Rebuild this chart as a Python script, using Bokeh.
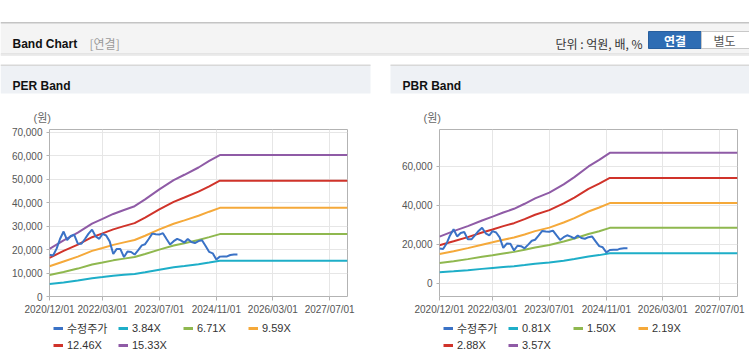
import pandas as pd
from bokeh.plotting import figure
from bokeh.models import (Range1d, FixedTicker, DatetimeTickFormatter, NumeralTickFormatter,
                          Legend, LegendItem, Label, BoxAnnotation)
from bokeh.layouts import column, row
from bokeh.embed import file_html
from bokeh.resources import INLINE

# ---------------- data ----------------
price_label = "수정주가"
price_start = "2020-12-01"
price_values = [17800, 17500, 20500, 24500, 27700, 24000, 25800, 26300, 22500, 22500,
                24500, 26800, 28500, 25600, 24600, 26700, 26000, 23500, 18100, 20300,
                20200, 16800, 19200, 19000, 17900, 19800, 21800, 22300, 24500, 26800,
                26500, 26400, 27000, 24500, 22200, 23600, 24600, 23900, 23000, 24500,
                23200, 22800, 23600, 24000, 21500, 19000, 18400, 15800, 17000, 17100,
                17100, 17700, 17900, 17900]

band_dates = ["2020-12-01", "2021-04-01", "2021-08-01", "2021-12-01", "2022-03-01",
              "2022-06-01", "2022-09-01", "2022-12-01", "2023-03-01", "2023-07-01",
              "2023-11-01", "2024-02-01", "2024-06-01", "2024-09-01", "2024-12-01",
              "2027-12-01"]

per_labels = ["3.84X", "6.71X", "9.59X", "12.46X", "15.33X"]
per_384 = [5300, 5990, 6810, 7790, 8290, 8820, 9240, 9640, 10370, 11450, 12430, 13000, 13780, 14480, 15200, 15200]
per_671 = [9200, 10460, 11900, 13620, 14490, 15410, 16150, 16850, 18120, 20000, 21710, 22720, 24080, 25300, 26600, 26600]
per_959 = [12900, 14950, 17010, 19460, 20710, 22020, 23080, 24080, 25900, 28590, 31030, 32470, 34410, 36160, 37800, 37800]
per_1246 = [16500, 19430, 22100, 25280, 26900, 28610, 29990, 31290, 33650, 37140, 40320, 42190, 44710, 46990, 49400, 49400]
per_1533 = [20300, 23900, 27200, 31100, 33100, 35200, 36900, 38500, 41400, 45700, 49600, 51900, 55000, 57800, 60300, 60300]

pbr_labels = ["0.81X", "1.50X", "2.19X", "2.88X", "3.57X"]
pbr_081 = [5600, 6050, 6650, 7310, 7760, 8240, 8670, 9260, 9890, 10550, 11530, 12370, 13620, 14390, 15400, 15400]
pbr_150 = [10300, 11210, 12320, 13530, 14370, 15260, 16050, 17150, 18320, 19550, 21350, 22910, 25220, 26640, 28400, 28400]
pbr_219 = [15000, 16360, 17980, 19750, 20980, 22270, 23430, 25030, 26740, 28540, 31160, 33440, 36810, 38890, 41150, 41150]
pbr_288 = [19500, 21510, 23650, 25980, 27590, 29290, 30820, 32920, 35170, 37530, 40980, 43980, 48410, 51150, 54060, 54060]
pbr_357 = [23900, 26700, 29300, 32200, 34200, 36300, 38200, 40800, 43600, 46500, 50800, 54500, 60000, 63400, 67000, 67000]

x_tick_labels = ["2020/12/01", "2022/03/01", "2023/07/01", "2024/11/01", "2026/03/01", "2027/07/01"]
x_start_label = "2020/12/01"
x_end_label = "2027/12/01"
per_y_ticks = [0, 10000, 20000, 30000, 40000, 50000, 60000, 70000]
pbr_y_ticks = [0, 20000, 40000, 60000]
unit_label = "(원)"

# ---------------- styling ----------------
price_color = "#3a72c6"
band_colors = ["#1eaec8", "#8fb84f", "#f5a93a", "#d0332a", "#8f5ba6"]
LATIN = "Liberation Sans"
KR = "Noto Sans CJK KR"
MIX = "Liberation Sans, Noto Sans CJK KR"
NAN = float("nan")


def to_ms(s, fmt=None):
    t = pd.to_datetime(s, format=fmt)
    return (t - pd.Timestamp("1970-01-01")) / pd.Timedelta(milliseconds=1)


tick_ms = [to_ms(s, "%Y/%m/%d") for s in x_tick_labels]
x0 = to_ms(x_start_label, "%Y/%m/%d")
x1 = to_ms(x_end_label, "%Y/%m/%d")
price_dates = pd.date_range(price_start, periods=len(price_values), freq="MS")
band_dt = pd.to_datetime(band_dates)

fmt_all = "%Y/%m/%d"
HH = 125          # header strip height
CH = 198          # chart figure height
LH = 41           # legend strip height


def make_chart(bands, y0, y1, yticks, width, min_left, min_right):
    p = figure(width=width, height=CH, x_axis_type="datetime", title=None,
               x_range=Range1d(x0, x1), y_range=Range1d(y0, y1),
               output_backend="svg", toolbar_location=None,
               min_border_left=min_left, min_border_right=min_right,
               min_border_top=4, min_border_bottom=27)
    p.background_fill_color = "white"
    p.border_fill_color = "white"
    p.outline_line_color = "#b3b3b3"
    p.outline_line_width = 1

    p.xaxis.ticker = FixedTicker(ticks=tick_ms)
    p.xaxis.formatter = DatetimeTickFormatter(
        milliseconds=fmt_all, seconds=fmt_all, minsec=fmt_all, minutes=fmt_all,
        hourmin=fmt_all, hours=fmt_all, days=fmt_all, months=fmt_all, years=fmt_all)
    p.yaxis.ticker = FixedTicker(ticks=yticks)
    p.yaxis.formatter = NumeralTickFormatter(format="0,0")
    for ax in (p.xaxis[0], p.yaxis[0]):
        ax.axis_line_color = None
        ax.major_tick_line_color = "#b3b3b3"
        ax.major_tick_in = 0
        ax.minor_tick_line_color = None
        ax.major_label_text_font = LATIN
        ax.major_label_text_font_size = "10px"
        ax.major_label_text_color = "#555555"
    p.xaxis.major_tick_out = 4
    p.xaxis.major_label_standoff = 3
    p.yaxis.major_tick_out = 3
    p.yaxis.major_label_standoff = 4
    p.grid.grid_line_color = "#e6e6e6"
    p.grid.grid_line_width = 1

    for vals, col in zip(bands, band_colors):
        p.line(band_dt, vals, line_color=col, line_width=2)
    p.line(price_dates, price_values, line_color=price_color, line_width=2)
    return p


def make_legend(labels, width, vx):
    q = figure(width=width, height=LH, x_range=Range1d(0, width), y_range=Range1d(0, LH),
               x_axis_location=None, y_axis_location=None, title=None,
               output_backend="svg", toolbar_location=None, min_border=0)
    q.grid.visible = False
    q.outline_line_color = None
    q.background_fill_color = "white"
    q.border_fill_color = "white"
    items = []
    pr = q.line([NAN], [NAN], line_color=price_color, line_width=3)
    items.append(LegendItem(label=price_label, renderers=[pr]))
    for lab, col in zip(labels, band_colors):
        r = q.line([NAN], [NAN], line_color=col, line_width=3)
        items.append(LegendItem(label=lab, renderers=[r]))
    legend = Legend(items=items, location=(vx, 13), orientation="horizontal", ncols=4,
                    padding=0, margin=0, spacing=3, glyph_width=10, glyph_height=12,
                    label_height=12, label_width=48, label_standoff=4,
                    label_text_font=MIX, label_text_font_size="11px",
                    label_text_color="#333333", border_line_color=None,
                    background_fill_alpha=0)
    q.add_layout(legend, "center")
    return q


per = make_chart([per_384, per_671, per_959, per_1246, per_1533],
                 0, 71200, per_y_ticks, 380, 49, 33)
pbr = make_chart([pbr_081, pbr_150, pbr_219, pbr_288, pbr_357],
                 -6900, 79000, pbr_y_ticks, 369, 59, 12)
# legend strips share the chart frames' left edge (49 / 59 px), offset 4 px
per_leg = make_legend(per_labels, 380, 4)
pbr_leg = make_legend(pbr_labels, 369, 4)

# ---------------- header strip ----------------
hdr = figure(width=749, height=HH, x_range=Range1d(0, 749), y_range=Range1d(HH, 0),
             x_axis_location=None, y_axis_location=None, title=None,
             output_backend="svg", toolbar_location=None, min_border=0)
hdr.grid.visible = False
hdr.outline_line_color = None
hdr.background_fill_color = "white"
hdr.border_fill_color = "white"


def box(l, r, t, b, fill, line=None):
    hdr.add_layout(BoxAnnotation(left=l, right=r, top=t, bottom=b, fill_color=fill,
                                 fill_alpha=1, line_color=line, line_alpha=1 if line else 0,
                                 line_width=1))


def lab(x, y, text, size="12px", color="#333333", font=KR, style="normal", align="left",
        baseline="alphabetic"):
    hdr.add_layout(Label(x=x, y=y, text=text, text_font=font, text_font_size=size,
                         text_color=color, text_font_style=style, text_align=align,
                         text_baseline=baseline))


box(0, 749, 22, 53, "#f4f4f4")
box(0, 749, 21.5, 23, "#c4c4c4")
box(0, 749, 53, 54, "#cfcfcf")
box(0, 749, 54, 55.5, "#ececec")
lab(12, 43, "Band Chart", color="#111111", font=LATIN, style="bold")
lab(89, 43, "[연결]", color="#9a9a9a")
lab(642, 43, "단위 : 억원, 배, %", color="#333333", align="right")
box(648, 701, 31, 48, "#2e6db4", "#285f9e")
box(701, 760, 31, 48, "#ffffff", "#c8c8c8")
lab(674.5, 39.5, "연결", color="#ffffff", style="bold", align="center", baseline="middle")
lab(724, 39.5, "별도", color="#555555", align="center", baseline="middle")

# panel headers
box(0, 370, 64.5, 93, "#eef1f5")
box(0, 370, 64, 65.5, "#d8d8d8")
box(390, 760, 64.5, 93, "#eef1f5")
box(390, 760, 64, 65.5, "#d8d8d8")
lab(12, 85, "PER Band", color="#111111", font=LATIN, style="bold")
lab(402, 85, "PBR Band", color="#111111", font=LATIN, style="bold")

# unit labels above each chart frame
lab(33, 117, unit_label, size="11px", color="#666666", font=MIX, baseline="middle")
lab(423, 117, unit_label, size="11px", color="#666666", font=MIX, baseline="middle")

layout = column(hdr,
                row(column(per, per_leg, spacing=0), column(pbr, pbr_leg, spacing=0), spacing=0),
                spacing=0)
open("out.html", "w").write(file_html(layout, INLINE))
